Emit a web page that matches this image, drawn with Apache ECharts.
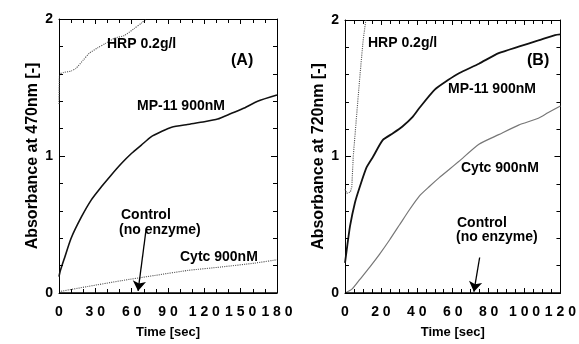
<!DOCTYPE html>
<html>
<head>
<meta charset="utf-8">
<script src="https://cdn.jsdelivr.net/npm/echarts@6/dist/echarts.min.js"></script>
<style>
  html, body { margin: 0; padding: 0; background: #fff; }
  #chart { width: 579px; height: 344px; }
</style>
</head>
<body>
<div id="chart"></div>
<script>
// panel (A): absorbance at 470 nm, [time s, absorbance]
const hrpA = [[0, 1.38], [0.3, 1.58], [1, 1.6], [4, 1.61], [10, 1.62], [14, 1.64], [20, 1.7], [25, 1.75],
  [32, 1.79], [38, 1.82], [46, 1.86], [54, 1.88], [62, 1.93], [68, 1.97], [72, 2.0]];
const mp11A = [[0, 0.12], [1, 0.16], [4.7, 0.26], [10, 0.4], [18.5, 0.555], [26.7, 0.68], [35, 0.775],
  [43, 0.86], [51.5, 0.945], [60, 1.02], [68, 1.08], [76, 1.14], [85, 1.18], [93, 1.21], [106, 1.23],
  [120, 1.25], [131, 1.27], [142, 1.31], [153, 1.35], [164, 1.4], [180, 1.445]];
const cytcA = [[0, 0.01], [24, 0.048], [51.5, 0.09], [79, 0.128], [106.6, 0.165], [134, 0.19],
  [161.6, 0.218], [180, 0.243]];
const controlA = [[0, 0], [180, 0]];
const arrowA = [[72, 0.47], [65.3, 0.015]];

// panel (B): absorbance at 720 nm
const hrpB = [[0, 0.76], [1, 0.73], [2, 0.72], [3, 0.74], [3.8, 0.78], [4.6, 1.0], [6.4, 1.29],
  [8.3, 1.59], [10.1, 1.85], [11.6, 2.0]];
const mp11B = [[0, 0.22], [1, 0.32], [2.8, 0.49], [5.5, 0.66], [8.3, 0.78], [12, 0.92], [15.7, 1.0],
  [21, 1.12], [26.7, 1.17], [32, 1.22], [37.7, 1.29], [41.4, 1.355], [50, 1.49], [57.4, 1.56],
  [63.5, 1.61], [74.6, 1.68], [85.6, 1.757], [96.7, 1.805], [107.7, 1.85], [117, 1.89], [120, 1.895]];
const cytcB = [[0, 0], [4, 0.03], [8.3, 0.1], [13.8, 0.19], [19.3, 0.285], [24.9, 0.39], [30.4, 0.5],
  [35.9, 0.61], [41.4, 0.71], [47, 0.78], [52.5, 0.845], [58, 0.905], [63.5, 0.965], [74.6, 1.09],
  [85.6, 1.16], [96.7, 1.23], [107.7, 1.28], [113, 1.32], [120, 1.37]];
const controlB = [[0, 0], [120, 0]];
const arrowB = [[75, 0.26], [71.8, 0.01]];

// tick marks on the frame (inward, all four sides)
const xTicksA = [0, 10, 20, 30, 40, 50, 60, 70, 80, 90, 100, 110, 120, 130, 140, 150, 160, 170, 180];
const xTicksB = [0, 5, 10, 15, 20, 25, 30, 35, 40, 45, 50, 55, 60, 65, 70, 75, 80, 85, 90, 95, 100,
  105, 110, 115, 120];
const yTicks = [0, 0.2, 0.4, 0.6, 0.8, 1, 1.2, 1.4, 1.6, 1.8, 2];

const yTitles = ['Absorbance at 470nm [-]', 'Absorbance at 720nm [-]'];
const xTitle = 'Time [sec]';
const panelTags = ['(A)', '(B)'];

const FONT = '"Liberation Sans", Arial, Helvetica, sans-serif';
const black = '#000';

const grids = [
  { left: 59, top: 19, width: 218, height: 274 },
  { left: 345, top: 20, width: 217, height: 274 },
];

// tick labels in the figure are letter-spaced ("1 2 0")
const spaced = (v) => String(v).split('').join(' ');

const noTicks = { axisTick: { show: false }, minorTick: { show: false } };

function xAxes(gridIndex, max, interval) {
  const common = {
    type: 'value',
    gridIndex,
    min: 0,
    max,
    interval,
    axisLine: { show: true, onZero: false, lineStyle: { color: black, width: 1 } },
    splitLine: { show: false },
    ...noTicks,
  };
  return [
    {
      ...common,
      position: 'bottom',
      axisLabel: {
        margin: 12, color: black, fontFamily: FONT, fontWeight: 'bold', fontSize: 14,
        formatter: spaced, showMaxLabel: true, showMinLabel: true,
      },
      name: xTitle,
      nameLocation: 'middle',
      nameGap: 33,
      nameTextStyle: { color: black, fontFamily: FONT, fontWeight: 'bold', fontSize: 13 },
    },
    { ...common, position: 'top', axisLabel: { show: false } },
  ];
}

function yAxes(gridIndex, title) {
  const common = {
    type: 'value',
    gridIndex,
    min: 0,
    max: 2,
    interval: 1,
    axisLine: { show: true, onZero: false, lineStyle: { color: black, width: 1 } },
    splitLine: { show: false },
    ...noTicks,
  };
  return [
    {
      ...common,
      position: 'left',
      axisLabel: { margin: 6, color: black, fontFamily: FONT, fontWeight: 'bold', fontSize: 14 },
      name: title,
      nameLocation: 'middle',
      nameGap: 18,
      nameTextStyle: { color: black, fontFamily: FONT, fontWeight: 'bold', fontSize: 16 },
    },
    { ...common, position: 'right', axisLabel: { show: false } },
  ];
}

function curve(data, axis, color, width, type) {
  return {
    type: 'line',
    data,
    xAxisIndex: axis,
    yAxisIndex: axis,
    showSymbol: false,
    smooth: 0.2,
    silent: true,
    lineStyle: { color, width, type },
  };
}

function control(data, arrow, axis) {
  return {
    type: 'line',
    data,
    xAxisIndex: axis,
    yAxisIndex: axis,
    showSymbol: false,
    silent: true,
    lineStyle: { color: black, width: 1 },
    markLine: {
      silent: true,
      symbol: ['none', 'arrow'],
      symbolSize: 10,
      label: { show: false },
      lineStyle: { color: black, width: 1.3, type: 'solid' },
      data: [[{ coord: arrow[0] }, { coord: arrow[1] }]],
    },
  };
}

// frame ticks as short mark lines placed through the axes' scales;
// tick length is given in pixels and turned into data units per panel
function frameTicks(axis, base, xTicks, xMajor, xMax) {
  const g = grids[axis / 2];
  const pxX = g.width / xMax;
  const pxY = g.height / 2;
  const lines = [];
  xTicks.forEach((t) => {
    const len = (t % xMajor === 0 ? 5 : 4) / pxY;
    lines.push([{ coord: [t, 0] }, { coord: [t, len] }]);
    lines.push([{ coord: [t, 2] }, { coord: [t, 2 - len] }]);
  });
  yTicks.forEach((v) => {
    const len = (Math.abs(v - Math.round(v)) < 1e-6 ? 6 : 4) / pxX;
    lines.push([{ coord: [0, v] }, { coord: [len, v] }]);
    lines.push([{ coord: [xMax, v] }, { coord: [xMax - len, v] }]);
  });
  return {
    type: 'line',
    data: base,
    xAxisIndex: axis,
    yAxisIndex: axis,
    showSymbol: false,
    silent: true,
    lineStyle: { color: black, width: 1 },
    markLine: {
      silent: true,
      symbol: ['none', 'none'],
      label: { show: false },
      lineStyle: { color: black, width: 1, type: 'solid' },
      data: lines,
    },
  };
}

function note(x, y, text, size) {
  return {
    type: 'text',
    x,
    y,
    silent: true,
    style: {
      text,
      fill: black,
      font: `bold ${size || 14}px ${FONT}`,
      align: 'left',
      verticalAlign: 'middle',
    },
  };
}

const chart = echarts.init(document.getElementById('chart'));

chart.setOption({
  animation: false,
  backgroundColor: '#fff',
  grid: grids,
  xAxis: [...xAxes(0, 180, 30), ...xAxes(1, 120, 20)],
  yAxis: [...yAxes(0, yTitles[0]), ...yAxes(1, yTitles[1])],
  series: [
    curve(hrpA, 0, '#555', 1.1, 'dotted'),
    curve(mp11A, 0, '#111', 1.6, 'solid'),
    curve(cytcA, 0, '#555', 1.1, 'dotted'),
    control(controlA, arrowA, 0),
    frameTicks(0, controlA, xTicksA, 30, 180),
    { ...curve(hrpB, 2, '#555', 1.1, 'dotted'), smooth: false },
    curve(mp11B, 2, '#111', 1.8, 'solid'),
    curve(cytcB, 2, '#777', 1.2, 'solid'),
    control(controlB, arrowB, 2),
    frameTicks(2, controlB, xTicksB, 20, 120),
  ],
  graphic: [
    note(107, 44, 'HRP 0.2g/l'),
    note(231, 61, panelTags[0], 16),
    note(137, 106, 'MP-11 900nM'),
    note(121, 215, 'Control'),
    note(119, 230, '(no enzyme)'),
    note(180, 257, 'Cytc 900nM'),
    note(368, 43, 'HRP 0.2g/l'),
    note(527, 61, panelTags[1], 16),
    note(448, 89, 'MP-11 900nM'),
    note(461, 168, 'Cytc 900nM'),
    note(457, 223, 'Control'),
    note(456, 237, '(no enzyme)'),
  ],
});
</script>
</body>
</html>
